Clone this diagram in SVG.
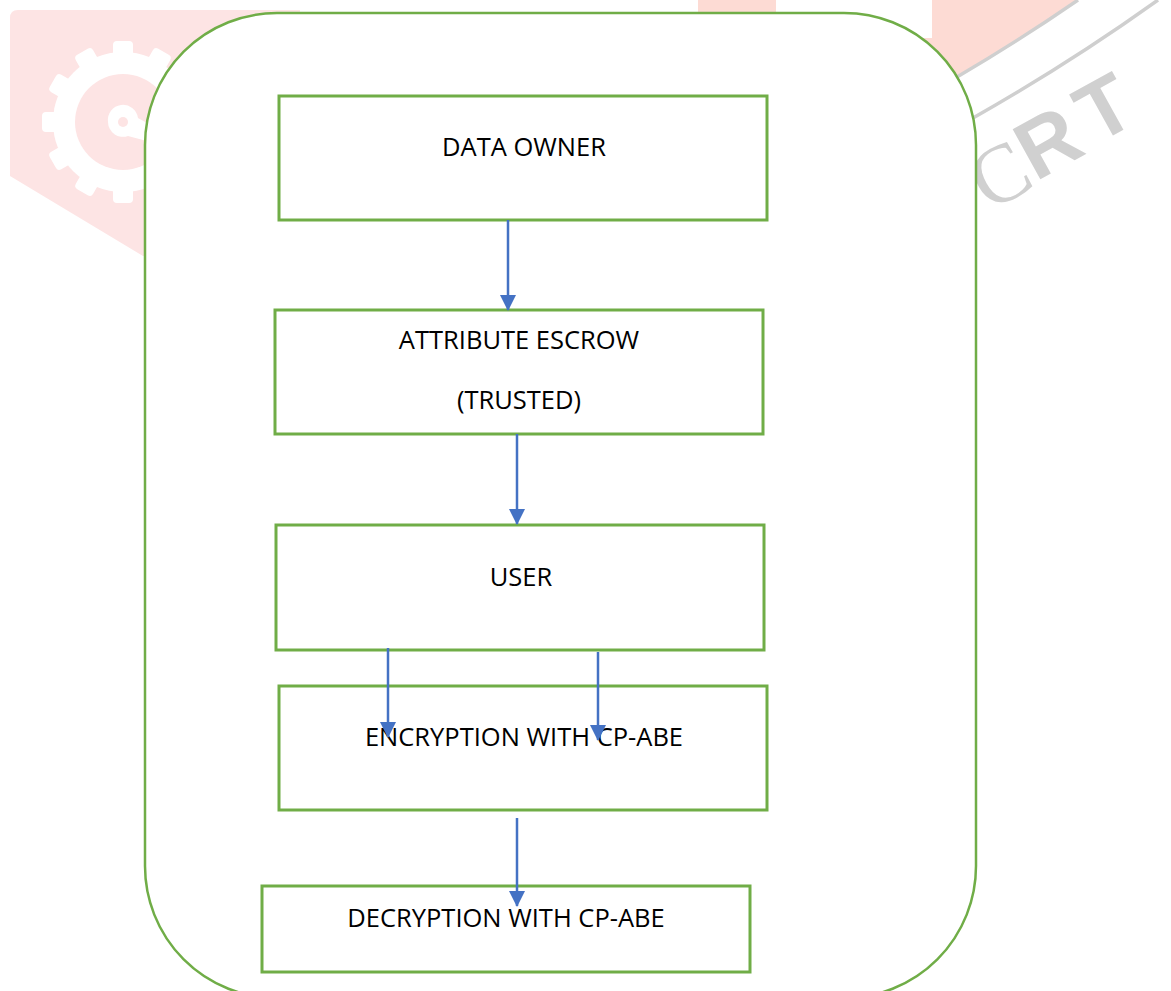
<svg xmlns="http://www.w3.org/2000/svg" width="1171" height="991" viewBox="0 0 1171 991">
<style>
.box{fill:#ffffff;stroke:#70ad47;stroke-width:3}
.lbl{font-family:"Open Sans","Liberation Sans",sans-serif;font-size:25.5px;fill:#000000;text-anchor:middle}
.conn{stroke:#4472c4;stroke-width:2.5;fill:none}
.wm{fill:#fde4e4}
.wm2{fill:#fddbd4}
.arc{stroke:#cfcfcf;stroke-width:3.5;fill:none}
</style>
<defs>
<marker id="ah" markerWidth="16" markerHeight="16" refX="15" refY="8" orient="auto" markerUnits="userSpaceOnUse">
<path d="M0,0 L16,8 L0,16 Z" fill="#4472c4"/>
</marker>
</defs>
<g id="watermark">
<path class="wm" d="M10,18 Q10,10 18,10 L300,10 L300,262 L143,256 L10,176 Z"/>
<g fill="#ffffff" transform="translate(123,122)">
<circle r="70"/>
<g id="teeth">
<rect x="-10" y="-81" width="20" height="20" rx="4"/>
<rect x="-10" y="-81" width="20" height="20" rx="4" transform="rotate(30)"/>
<rect x="-10" y="-81" width="20" height="20" rx="4" transform="rotate(60)"/>
<rect x="-10" y="-81" width="20" height="20" rx="4" transform="rotate(90)"/>
<rect x="-10" y="-81" width="20" height="20" rx="4" transform="rotate(120)"/>
<rect x="-10" y="-81" width="20" height="20" rx="4" transform="rotate(150)"/>
<rect x="-10" y="-81" width="20" height="20" rx="4" transform="rotate(180)"/>
<rect x="-10" y="-81" width="20" height="20" rx="4" transform="rotate(210)"/>
<rect x="-10" y="-81" width="20" height="20" rx="4" transform="rotate(240)"/>
<rect x="-10" y="-81" width="20" height="20" rx="4" transform="rotate(270)"/>
<rect x="-10" y="-81" width="20" height="20" rx="4" transform="rotate(300)"/>
<rect x="-10" y="-81" width="20" height="20" rx="4" transform="rotate(330)"/>
</g>
<circle r="48" fill="#fde4e4"/>
<path d="M-15,0 A15,15 0 0 1 15,-4 L40,10 L35,22 L5,14 A15,15 0 0 1 -15,0 Z"/>
<circle r="5" fill="#fde4e4"/>
</g>
<path class="wm2" d="M698,0 L1078,0 Q1010,45 957,77 L900,110 L698,110 Z"/>
<rect x="776" y="0" width="156" height="38" fill="#ffffff"/>
<path class="arc" d="M957,77 Q1020,40 1078,0"/>
<path class="arc" d="M973,118 Q1070,63 1158,0"/>
<text x="975" y="220" transform="rotate(-29 975 220)" font-size="83" fill="#d0d0d0"><tspan dx="16" font-family="'Liberation Serif',serif">C</tspan><tspan dx="0" dy="-4" font-family="'Liberation Sans',sans-serif" font-weight="bold">R</tspan><tspan dx="11" dy="-3" font-family="'Liberation Sans',sans-serif" font-weight="bold">T</tspan></text>
</g>
<g id="frame">
<path d="M145,145 A132,132 0 0 1 277,13 L844,13 A132,132 0 0 1 976,145 L976,866 A132,132 0 0 1 844,998 L277,998 A132,132 0 0 1 145,866 Z" fill="#ffffff" stroke="#70ad47" stroke-width="2.5"/>
</g>
<g id="n1">
<rect class="box" x="279" y="96" width="488" height="124"/>
<text class="lbl" x="524" y="156">DATA OWNER</text>
</g>
<g id="n2">
<rect class="box" x="275" y="310" width="488" height="124"/>
<text class="lbl" x="519" y="349">ATTRIBUTE ESCROW</text>
<text class="lbl" x="519" y="409">(TRUSTED)</text>
</g>
<g id="n3">
<rect class="box" x="276" y="525" width="488" height="125"/>
<text class="lbl" x="521" y="586">USER</text>
</g>
<g id="n4">
<rect class="box" x="279" y="686" width="488" height="124"/>
<text class="lbl" x="524" y="746">ENCRYPTION WITH CP-ABE</text>
</g>
<g id="n5">
<rect class="box" x="262" y="886" width="488" height="86"/>
<text class="lbl" x="506" y="927">DECRYPTION WITH CP-ABE</text>
</g>
<g id="connectors">
<line class="conn" x1="508" y1="220" x2="508" y2="310" marker-end="url(#ah)"/>
<line class="conn" x1="517" y1="434" x2="517" y2="524" marker-end="url(#ah)"/>
<line class="conn" x1="388" y1="648" x2="388" y2="737" marker-end="url(#ah)"/>
<line class="conn" x1="598" y1="652" x2="598" y2="740" marker-end="url(#ah)"/>
<line class="conn" x1="517" y1="818" x2="517" y2="906" marker-end="url(#ah)"/>
</g>
</svg>
